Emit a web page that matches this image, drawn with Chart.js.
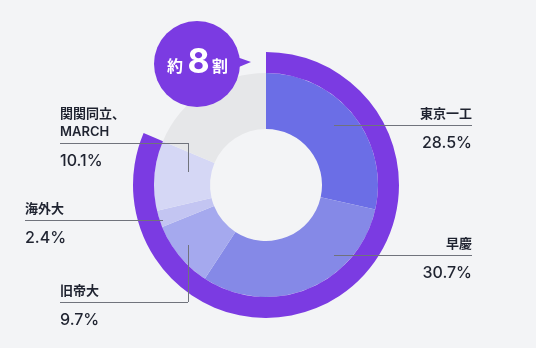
<!DOCTYPE html>
<html>
<head>
<meta charset="utf-8">
<script src="https://cdn.jsdelivr.net/npm/chart.js@4"></script>
<style>
  html, body { margin: 0; padding: 0; background: #f3f4f6; }
  #wrap { width: 536px; height: 348px; position: relative; }
</style>
</head>
<body>
<div id="wrap"><canvas id="chart"></canvas></div>
<script>
// data
const categories = ['東京一工', '早慶', '旧帝大', '海外大', ['関関同立、', 'MARCH'], 'その他'];
const shares = [28.5, 30.7, 9.7, 2.4, 10.1, 18.6];
const sliceColors = ['#6b6ee6', '#8589e7', '#a5a9ee', '#c3c5f2', '#d5d7f5', '#e6e7e9'];
const bubbleText = ['約', '8', '割'];

// outer ring = everything except the last (grey) slice
const topShare = shares.slice(0, 5).reduce((a, b) => a + b, 0);
const ringValues = [topShare, 100 - topShare];

const PURPLE = '#7b3be2';
const TEXT = '#1f2330';
const FONT = 'Inter, "Noto Sans CJK JP", sans-serif';

// where the callout lines go (layout only)
const callouts = [
    { i: 0, align: 'right', x1: 334, x2: 472, y: 125 },
    { i: 1, align: 'right', x1: 334, x2: 472, y: 255 },
    { i: 2, align: 'left', x1: 60, x2: 188, y: 302, tick: 245 },
    { i: 3, align: 'left', x1: 25, x2: 163, y: 220 },
    { i: 4, align: 'left', x1: 60, x2: 188, y: 143, tick: 172 }
];

const calloutPlugin = {
    id: 'callouts',
    afterDraw(chart) {
        const ctx = chart.ctx;
        ctx.save();
        ctx.strokeStyle = '#70737c';
        ctx.lineWidth = 1;
        callouts.forEach(c => {
            ctx.beginPath();
            ctx.moveTo(c.x1, c.y + 0.5);
            ctx.lineTo(c.x2, c.y + 0.5);
            if (c.tick) {
                ctx.moveTo(c.x2 + 0.5, c.y);
                ctx.lineTo(c.x2 + 0.5, c.tick);
            }
            ctx.stroke();

            const tx = c.align === 'right' ? c.x2 : c.x1;
            ctx.textAlign = c.align;
            ctx.textBaseline = 'middle';
            ctx.fillStyle = TEXT;
            let name = categories[c.i];
            if (!Array.isArray(name)) name = [name];
            ctx.font = '600 13px ' + FONT;
            name.forEach((line, k) => {
                ctx.fillText(line, tx, c.y - 11 - (name.length - 1 - k) * 18);
            });
            ctx.font = '500 16px ' + FONT;
            ctx.fillText(shares[c.i].toFixed(1) + '%', tx, c.y + 18);
        });

        // speech bubble
        const bx = 197, by = 64, br = 43;
        ctx.fillStyle = PURPLE;
        ctx.beginPath();
        ctx.arc(bx, by, br, 0, Math.PI * 2);
        ctx.fill();
        ctx.beginPath();
        ctx.moveTo(bx + br - 6, by - 8);
        ctx.lineTo(251, by - 2);
        ctx.lineTo(bx + br - 6, by + 5);
        ctx.closePath();
        ctx.fill();

        ctx.fillStyle = '#ffffff';
        ctx.textAlign = 'center';
        ctx.textBaseline = 'middle';
        ctx.font = '700 16px ' + FONT;
        ctx.fillText(bubbleText[0], 175, 67);
        ctx.fillText(bubbleText[2], 220, 67);
        ctx.font = '700 34px ' + FONT;
        ctx.fillText(bubbleText[1], 198.5, 63);
        ctx.restore();
    }
};

const ctx = document.getElementById('chart').getContext('2d');
const myChart = new Chart(ctx, {
    type: 'doughnut',
    data: {
        labels: categories,
        datasets: [{
            data: ringValues,
            backgroundColor: [PURPLE, 'rgba(0,0,0,0)'],
            borderWidth: 0,
            weight: 21
        }, {
            data: shares,
            backgroundColor: sliceColors,
            borderWidth: 0,
            weight: 56
        }]
    },
    options: {
        responsive: true,
        maintainAspectRatio: false,
        animation: false,
        cutout: 56,
        layout: {
            padding: { top: 52, bottom: 30, left: 0, right: 4 }
        },
        plugins: {
            legend: { display: false },
            tooltip: { enabled: false }
        },
        events: []
    },
    plugins: [calloutPlugin]
});
</script>
</body>
</html>
